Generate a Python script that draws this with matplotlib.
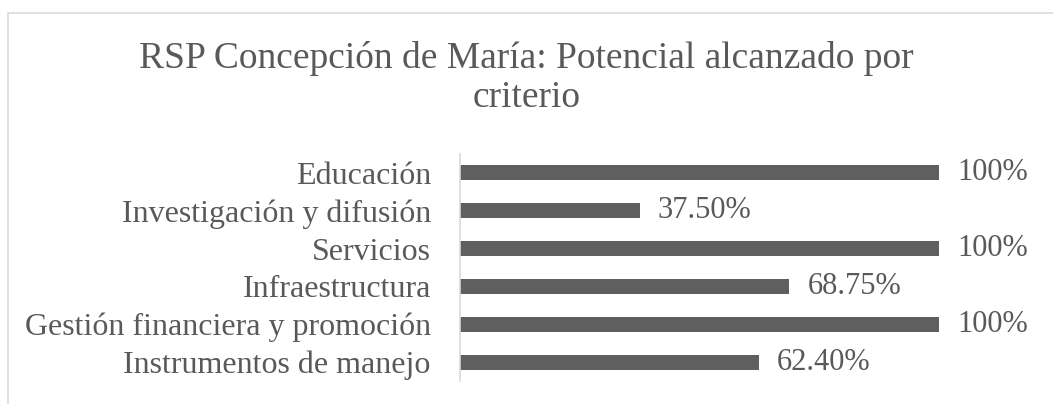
import matplotlib.pyplot as plt
from matplotlib.patches import Rectangle

# Datos del gráfico
criterios = ['Educación', 'Investigación y difusión', 'Servicios',
             'Infraestructura', 'Gestión financiera y promoción',
             'Instrumentos de manejo']
potencial = [1.00, 0.375, 1.00, 0.6875, 1.00, 0.624]
etiquetas = ['100%', '37.50%', '100%', '68.75%', '100%', '62.40%']

titulo = 'RSP Concepción de María: Potencial alcanzado por\ncriterio'

gris_texto = '#595959'
gris_barra = '#5f5f5f'
gris_linea = '#d9d9d9'

plt.rcParams['font.family'] = ['Liberation Serif', 'DejaVu Serif']

fig = plt.figure(figsize=(10.53, 4.04), dpi=100)
fig.patches.append(Rectangle((8 / 1053, -0.1), 1.2, 1 - 13 / 404 + 0.1,
                             transform=fig.transFigure, fill=False,
                             edgecolor=gris_linea, linewidth=1.2))

ax = fig.add_axes([460 / 1053, 1 - 381 / 404, 479 / 1053, 227 / 404])

pos = list(range(len(criterios)))
ax.barh(pos, potencial, height=0.4, color=gris_barra)
ax.set_xlim(0, 1)
ax.set_ylim(len(criterios) - 0.5, -0.5)

ax.set_yticks(pos)
ax.set_yticklabels(criterios, fontsize=23, color=gris_texto)
ax.tick_params(axis='y', length=0, pad=21)
ax.set_xticks([])

for s in ['top', 'right', 'bottom']:
    ax.spines[s].set_visible(False)
ax.spines['left'].set_color(gris_linea)
ax.spines['left'].set_linewidth(1.2)

for i, (v, t) in enumerate(zip(potencial, etiquetas)):
    ax.annotate(t, (v, i), xytext=(13, 0), textcoords='offset points',
                va='center', ha='left', fontsize=22, color=gris_texto)

fig.text(0.5, 1 - 78 / 404, titulo, ha='center', va='center',
         fontsize=27, color=gris_texto, linespacing=1.2)

fig.savefig('out.png', dpi=100)
